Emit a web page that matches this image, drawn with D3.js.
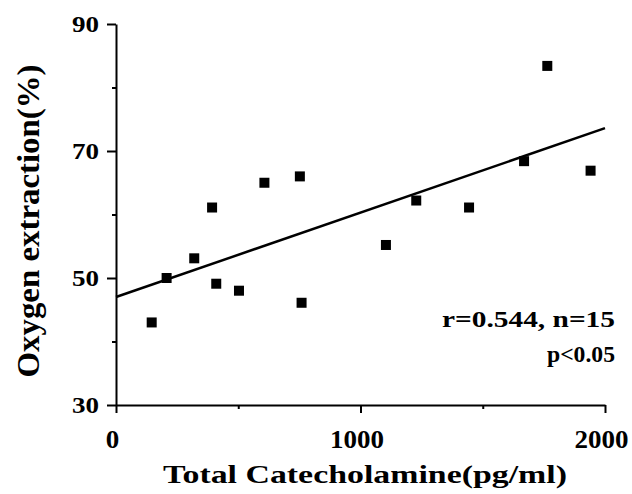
<!DOCTYPE html>
<meta charset="utf-8">
<style>
  body { margin: 0; background: #fff; }
  svg text { font-family: "Liberation Serif", "Times New Roman", serif; font-weight: bold; fill: #000; }
  .axis path, .axis line { stroke: #000; stroke-width: 2px; }
</style>
<svg width="632" height="494"></svg>
<script src="https://cdn.jsdelivr.net/npm/d3@7"></script>
<script>
// catecholamine (pg/ml) vs oxygen extraction (%)
var catecholamine = [146, 207, 320, 393, 410, 503, 607, 752, 759, 1104, 1228, 1444, 1669, 1764, 1941];
var extraction    = [43.0, 50.0, 53.1, 61.1, 49.1, 48.0, 65.0, 66.0, 46.1, 55.2, 62.2, 61.1, 68.4, 83.4, 66.9];
var fitX = [0, 2000];
var fitY = [47.0, 73.6];
var xTicks = [0, 1000, 2000];
var xMinor = [500, 1500];
var yTicks = [30, 50, 70, 90];
var yMinor = [40, 60, 80];

var svg = d3.select("svg");
var x = d3.scaleLinear().domain([0, 2000]).range([116, 605]);
var y = d3.scaleLinear().domain([30, 90]).range([405, 24]);

// the scanned type is wide, so stretch digits a bit
var digitW = 13.5;

// minor ticks
svg.append("g").attr("class", "axis")
    .attr("transform", "translate(0,405)")
    .call(d3.axisBottom(x).tickValues(xMinor).tickSize(4).tickFormat(""))
    .select(".domain").remove();
svg.append("g").attr("class", "axis")
    .attr("transform", "translate(116,0)")
    .call(d3.axisLeft(y).tickValues(yMinor).tickSize(4).tickFormat(""))
    .select(".domain").remove();

var xAxis = svg.append("g").attr("class", "axis")
    .attr("transform", "translate(0,405)")
    .call(d3.axisBottom(x).tickValues(xTicks).tickFormat(d3.format("d")).tickSizeInner(8).tickSizeOuter(0));
xAxis.selectAll("text")
    .style("font-size", "25px")
    .attr("y", 43).attr("dy", null).attr("dx", -4)
    .attr("textLength", function(d) { return String(d).length * digitW; })
    .attr("lengthAdjust", "spacingAndGlyphs");

var yAxis = svg.append("g").attr("class", "axis")
    .attr("transform", "translate(116,0)")
    .call(d3.axisLeft(y).tickValues(yTicks).tickFormat(d3.format("d")).tickSizeInner(9).tickSizeOuter(0).tickPadding(8));
yAxis.selectAll("text")
    .style("font-size", "24px")
    .attr("textLength", function(d) { return String(d).length * digitW; })
    .attr("lengthAdjust", "spacingAndGlyphs");

// regression line
svg.append("line")
    .attr("x1", x(fitX[0])).attr("y1", y(fitY[0]))
    .attr("x2", x(fitX[1])).attr("y2", y(fitY[1]))
    .attr("stroke", "#000").attr("stroke-width", 2.5);

var s = 10;
svg.append("g").selectAll("rect")
    .data(catecholamine)
    .enter().append("rect")
    .attr("x", function(d) { return x(d) - s / 2; })
    .attr("y", function(d, i) { return y(extraction[i]) - s / 2; })
    .attr("width", s).attr("height", s)
    .attr("fill", "#000");

svg.append("text")
    .attr("x", 615).attr("y", 327)
    .attr("text-anchor", "end")
    .attr("textLength", 173).attr("lengthAdjust", "spacingAndGlyphs")
    .style("font-size", "24px")
    .text("r=0.544, n=15");
svg.append("text")
    .attr("x", 615).attr("y", 362)
    .attr("text-anchor", "end")
    .attr("textLength", 68).attr("lengthAdjust", "spacingAndGlyphs")
    .style("font-size", "23px")
    .text("p<0.05");

svg.append("text")
    .attr("x", 365).attr("y", 483)
    .attr("text-anchor", "middle")
    .attr("textLength", 404).attr("lengthAdjust", "spacingAndGlyphs")
    .style("font-size", "25px")
    .text("Total Catecholamine(pg/ml)");

svg.append("text")
    .attr("transform", "translate(39,221) rotate(-90)")
    .attr("text-anchor", "middle")
    .attr("textLength", 313).attr("lengthAdjust", "spacingAndGlyphs")
    .style("font-size", "32px")
    .text("Oxygen extraction(%)");
</script>
